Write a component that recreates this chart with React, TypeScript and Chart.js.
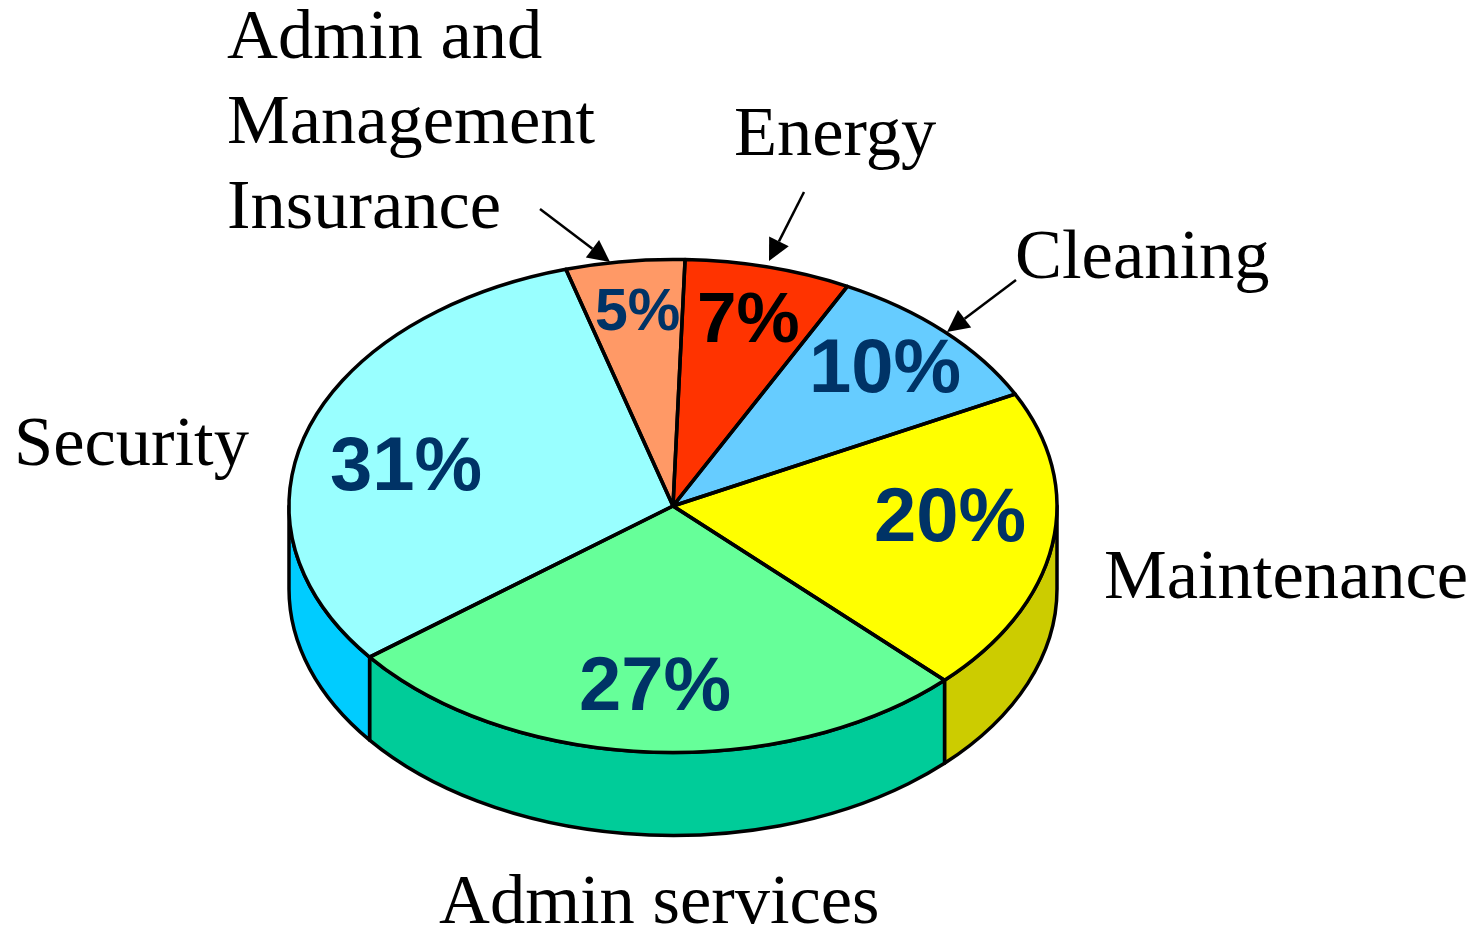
import React, { useEffect, useRef } from "react";
import { Chart, registerables } from "chart.js";

Chart.register(...registerables);

const categories = ["Energy", "Cleaning", "Maintenance", "Admin services", "Security", "Admin and Management Insurance"];
const values = [7, 10, 20, 27, 31, 5];
const topColors = ["#FF3300", "#66CCFF", "#FFFF00", "#66FF99", "#99FFFF", "#FF9966"];
const wallColors = ["#CC2900", "#00CCFF", "#CCCC00", "#00CC99", "#00CCFF", "#CC7A52"];

const W = 1476;
const H = 929;
const CX = 673;
const CY = 506;
const RX = 384;
const RY = 246.5;
const DEPTH = 83;
const SQUASH = RY / RX;

const valueLabelStyle = [
  { x: 697, y: 342, size: 71, color: "#000000" },
  { x: 809, y: 392, size: 76, color: "#003366" },
  { x: 874, y: 541, size: 76, color: "#003366" },
  { x: 579, y: 710, size: 76, color: "#003366" },
  { x: 330, y: 490, size: 76, color: "#003366" },
  { x: 595, y: 330, size: 59, color: "#003366" },
];

const categoryLabelStyle = [
  { lines: ["Energy"], x: 734, y: 155 },
  { lines: ["Cleaning"], x: 1015, y: 278 },
  { lines: ["Maintenance"], x: 1104, y: 598 },
  { lines: ["Admin services"], x: 439, y: 923 },
  { lines: ["Security"], x: 14, y: 465 },
  { lines: ["Admin and", "Management", "Insurance"], x: 227, y: 58 },
];

const arrows = [
  [540, 209, 610, 262],
  [804, 192, 769, 261],
  [1016, 280, 947, 332],
];

const pseudo3d = {
  id: "pseudo3d",
  beforeDatasetsDraw(chart: any) {
    const { ctx } = chart;
    const arcs = chart.getDatasetMeta(0).data;
    ctx.save();
    ctx.lineWidth = 3.5;
    ctx.strokeStyle = "#000";
    ctx.lineJoin = "round";
    arcs.forEach((arc: any, i: number) => {
      // The visible wall is the part of the slice in the lower half, angles 0..PI.
      [-2 * Math.PI, 0, 2 * Math.PI].forEach((shift) => {
        const a0 = Math.max(arc.startAngle + shift, 0);
        const a1 = Math.min(arc.endAngle + shift, Math.PI);
        if (a1 <= a0) return;
        ctx.beginPath();
        ctx.ellipse(CX, CY, RX, RY, 0, a0, a1, false);
        ctx.ellipse(CX, CY + DEPTH, RX, RY, 0, a1, a0, true);
        ctx.closePath();
        ctx.fillStyle = wallColors[i];
        ctx.fill();
        ctx.stroke();
      });
    });
    ctx.restore();
    ctx.save();
    ctx.translate(CX, CY);
    ctx.scale(1, SQUASH);
    ctx.translate(-CX, -CY);
  },
  afterDatasetsDraw(chart: any) {
    const { ctx } = chart;
    ctx.restore();
    const arcs = chart.getDatasetMeta(0).data;
    ctx.save();
    ctx.lineWidth = 3.5;
    ctx.strokeStyle = "#000";
    ctx.lineJoin = "round";
    arcs.forEach((arc: any) => {
      ctx.beginPath();
      ctx.moveTo(CX, CY);
      ctx.ellipse(CX, CY, RX, RY, 0, arc.startAngle, arc.endAngle, false);
      ctx.closePath();
      ctx.stroke();
    });
    ctx.fillStyle = "#000";
    ctx.lineWidth = 2.5;
    ctx.lineCap = "butt";
    arrows.forEach(([x0, y0, x1, y1]) => {
      const ang = Math.atan2(y1 - y0, x1 - x0);
      const len = 22;
      const half = 11;
      const bx = x1 - Math.cos(ang) * len;
      const by = y1 - Math.sin(ang) * len;
      ctx.beginPath();
      ctx.moveTo(x0, y0);
      ctx.lineTo(bx, by);
      ctx.stroke();
      ctx.beginPath();
      ctx.moveTo(x1, y1);
      ctx.lineTo(bx - Math.sin(ang) * half, by + Math.cos(ang) * half);
      ctx.lineTo(bx + Math.sin(ang) * half, by - Math.cos(ang) * half);
      ctx.closePath();
      ctx.fill();
    });
    ctx.textAlign = "left";
    ctx.textBaseline = "alphabetic";
    valueLabelStyle.forEach((st, i) => {
      ctx.font = `bold ${st.size}px "Liberation Sans"`;
      ctx.fillStyle = st.color;
      ctx.fillText(`${values[i]}%`, st.x, st.y);
    });
    ctx.font = `70.5px "Liberation Serif"`;
    ctx.fillStyle = "#000";
    categoryLabelStyle.forEach((st) => {
      st.lines.forEach((line, k) => ctx.fillText(line, st.x, st.y + k * 85));
    });
    ctx.restore();
  },
};

export default function App() {
  const ref = useRef<HTMLCanvasElement>(null);
  useEffect(() => {
    document.body.style.margin = "0";
    const chart = new Chart(ref.current as HTMLCanvasElement, {
      type: "pie",
      data: {
        labels: categories,
        datasets: [{ data: values, backgroundColor: topColors, borderWidth: 0 }],
      },
      options: {
        responsive: false,
        animation: false,
        rotation: 1.8,
        layout: {
          padding: { left: CX - RX, right: W - CX - RX, top: CY - RX, bottom: H - CY - RX },
        },
        plugins: { legend: { display: false }, tooltip: { enabled: false } },
      },
      plugins: [pseudo3d],
    } as any);
    return () => chart.destroy();
  }, []);
  return <canvas ref={ref} width={W} height={H} style={{ display: "block" }} />;
}
